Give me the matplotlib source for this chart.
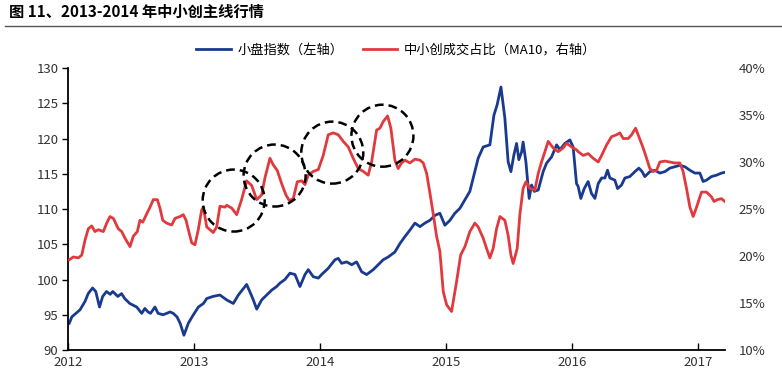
import numpy as np
import matplotlib
matplotlib.use("Agg")
import matplotlib.pyplot as plt
from matplotlib.patches import Ellipse

plt.rcParams['font.family'] = ['Noto Sans CJK SC', 'DejaVu Sans']

# 小盘指数 (left axis), time in decimal years
t_small = [2012.01, 2012.03, 2012.095, 2012.135, 2012.16, 2012.195, 2012.22, 2012.25, 2012.275,
           2012.305, 2012.335, 2012.355, 2012.395, 2012.425, 2012.45, 2012.49, 2012.545, 2012.585,
           2012.61, 2012.635, 2012.655, 2012.69, 2012.715, 2012.755, 2012.81, 2012.835, 2012.865,
           2012.89, 2012.92, 2012.955, 2012.995, 2013.035, 2013.075, 2013.101, 2013.151, 2013.206,
           2013.26, 2013.312, 2013.352, 2013.418, 2013.45, 2013.471, 2013.498, 2013.537, 2013.577,
           2013.617, 2013.656, 2013.683, 2013.722, 2013.762, 2013.802, 2013.841, 2013.881, 2013.907,
           2013.947, 2013.987, 2014.013, 2014.066, 2014.119, 2014.145, 2014.172, 2014.212, 2014.252,
           2014.291, 2014.331, 2014.371, 2014.423, 2014.463, 2014.502, 2014.542, 2014.595, 2014.635,
           2014.675, 2014.714, 2014.754, 2014.794, 2014.833, 2014.873, 2014.913, 2014.952, 2014.992,
           2015.032, 2015.071, 2015.111, 2015.151, 2015.19, 2015.217, 2015.256, 2015.296, 2015.349,
           2015.381, 2015.407, 2015.437, 2015.468, 2015.494, 2015.516, 2015.54, 2015.561, 2015.579,
           2015.601, 2015.613, 2015.635, 2015.661, 2015.68, 2015.701, 2015.733, 2015.772, 2015.799,
           2015.839, 2015.879, 2015.905, 2015.944, 2015.984, 2016.01, 2016.037, 2016.05, 2016.071,
           2016.098, 2016.129, 2016.156, 2016.183, 2016.209, 2016.236, 2016.262, 2016.283, 2016.302,
           2016.341, 2016.363, 2016.394, 2016.421, 2016.46, 2016.5, 2016.532, 2016.558, 2016.579,
           2016.619, 2016.659, 2016.698, 2016.738, 2016.778, 2016.817, 2016.857, 2016.897, 2016.937,
           2016.976, 2017.016, 2017.042, 2017.069, 2017.108, 2017.148, 2017.188, 2017.214]
small_idx = [93.8, 94.7, 95.7, 96.9, 98.0, 98.8, 98.3, 96.1, 97.6,
             98.3, 97.9, 98.3, 97.6, 98.0, 97.3, 96.6, 96.1, 95.2,
             95.9, 95.4, 95.2, 96.1, 95.2, 95.0, 95.4, 95.2, 94.7,
             93.8, 92.1, 93.8, 95.0, 96.1, 96.6, 97.3, 97.6, 97.8,
             97.1, 96.6, 97.8, 99.3, 98.0, 97.1, 95.8, 97.1, 97.8,
             98.5, 99.0, 99.5, 100.0, 100.9, 100.7, 99.0, 100.7, 101.4,
             100.4, 100.2, 100.7, 101.6, 102.8, 103.0, 102.3, 102.5, 102.1,
             102.5, 101.1, 100.7, 101.4, 102.1, 102.8, 103.2, 103.9, 105.1,
             106.1, 107.0, 108.0, 107.5, 108.0, 108.4, 109.1, 109.4, 107.7,
             108.4, 109.4, 110.1, 111.3, 112.5, 114.4, 117.2, 118.8, 119.1,
             123.3, 124.8, 127.3, 122.9, 116.7, 115.3, 117.7, 119.3, 117.0,
             118.1, 119.5, 116.7, 111.5, 113.4, 112.5, 112.7, 115.3, 116.5,
             117.4, 119.1, 118.4, 119.3, 119.8, 118.8, 113.6, 113.2, 111.5,
             112.9, 113.9, 112.2, 111.5, 113.6, 114.4, 114.4, 115.5, 114.4,
             114.1, 112.9, 113.4, 114.4, 114.6, 115.3, 115.8, 115.3, 114.6,
             115.3, 115.5, 115.1, 115.3, 115.8, 116.0, 116.2, 116.0, 115.5,
             115.1, 115.1, 113.9, 114.1, 114.6, 114.8, 115.1, 115.2]

# 中小创成交占比 MA10 (right axis, %)
t_share = [2012.01, 2012.042, 2012.082, 2012.109, 2012.135, 2012.161, 2012.188, 2012.214, 2012.24,
           2012.28, 2012.307, 2012.333, 2012.36, 2012.399, 2012.426, 2012.452, 2012.492, 2012.518,
           2012.55, 2012.571, 2012.593, 2012.625, 2012.651, 2012.677, 2012.709, 2012.73, 2012.752,
           2012.783, 2012.823, 2012.849, 2012.889, 2012.915, 2012.937, 2012.955, 2012.982, 2013.008,
           2013.034, 2013.061, 2013.074, 2013.101, 2013.153, 2013.18, 2013.206, 2013.246, 2013.26,
           2013.299, 2013.339, 2013.378, 2013.418, 2013.458, 2013.498, 2013.537, 2013.563, 2013.603,
           2013.629, 2013.661, 2013.696, 2013.73, 2013.756, 2013.788, 2013.82, 2013.855, 2013.881,
           2013.907, 2013.947, 2013.987, 2014.026, 2014.066, 2014.106, 2014.145, 2014.185, 2014.225,
           2014.264, 2014.304, 2014.344, 2014.383, 2014.41, 2014.45, 2014.476, 2014.502, 2014.537,
           2014.563, 2014.595, 2014.621, 2014.648, 2014.675, 2014.714, 2014.754, 2014.794, 2014.82,
           2014.847, 2014.873, 2014.899, 2014.926, 2014.952, 2014.979, 2015.006, 2015.045, 2015.085,
           2015.117, 2015.151, 2015.19, 2015.23, 2015.256, 2015.296, 2015.323, 2015.349, 2015.375,
           2015.402, 2015.429, 2015.468, 2015.494, 2015.516, 2015.534, 2015.566, 2015.587, 2015.613,
           2015.635, 2015.667, 2015.706, 2015.733, 2015.759, 2015.786, 2015.812, 2015.852, 2015.891,
           2015.931, 2015.958, 2015.998, 2016.037, 2016.05, 2016.09, 2016.129, 2016.169, 2016.209,
           2016.236, 2016.275, 2016.315, 2016.355, 2016.381, 2016.407, 2016.447, 2016.474, 2016.506,
           2016.532, 2016.566, 2016.593, 2016.619, 2016.645, 2016.672, 2016.698, 2016.738, 2016.778,
           2016.817, 2016.857, 2016.883, 2016.91, 2016.937, 2016.963, 2016.99, 2017.029, 2017.069,
           2017.108, 2017.129, 2017.156, 2017.188, 2017.214]
share_pct = [19.6, 19.9, 19.8, 20.1, 21.7, 22.9, 23.2, 22.6, 22.8,
             22.6, 23.5, 24.2, 24.0, 22.9, 22.6, 21.9, 21.0, 22.1,
             22.6, 23.8, 23.6, 24.5, 25.2, 26.0, 26.0, 25.1, 23.8,
             23.5, 23.3, 24.0, 24.2, 24.4, 23.8, 22.8, 21.4, 21.2,
             22.8, 24.9, 25.2, 23.1, 22.5, 23.1, 25.3, 25.2, 25.4,
             25.1, 24.4, 26.0, 28.0, 27.5, 26.0, 26.5, 28.3, 30.4,
             29.7, 29.1, 27.7, 26.5, 25.9, 26.1, 27.9, 28.0, 27.6,
             28.6, 29.0, 29.2, 30.7, 32.9, 33.1, 32.9, 32.2, 31.6,
             30.4, 29.3, 29.0, 28.6, 30.0, 33.4, 33.6, 34.3, 34.9,
             33.6, 30.2, 29.3, 29.9, 30.2, 29.9, 30.3, 30.2, 29.9,
             28.8, 26.7, 24.5, 22.1, 20.5, 16.2, 14.8, 14.1, 17.3,
             20.1, 21.0, 22.6, 23.5, 23.1, 21.9, 20.8, 19.8, 20.8,
             22.9, 24.2, 23.8, 22.2, 20.1, 19.2, 20.8, 24.4, 27.2,
             27.9, 27.2, 27.0, 28.8, 30.0, 31.1, 32.2, 31.5, 31.1,
             31.5, 32.0, 31.6, 31.3, 31.1, 30.7, 30.9, 30.4, 30.0,
             30.7, 31.8, 32.7, 32.9, 33.1, 32.5, 32.5, 32.9, 33.6,
             32.7, 31.5, 30.4, 29.3, 29.0, 29.1, 30.0, 30.1, 30.0,
             29.9, 29.9, 29.0, 27.2, 25.2, 24.2, 25.2, 26.8, 26.8,
             26.3, 25.8, 26.0, 26.1, 25.8]

years = [2012, 2013, 2014, 2015, 2016, 2017]
left_ticks = [90, 95, 100, 105, 110, 115, 120, 125, 130]
right_ticks = [10, 15, 20, 25, 30, 35, 40]

# dashed circles: centre (year, left-axis value)
circle_centres = [(2013.315, 111.2), (2013.64, 114.75), (2014.098, 118.0), (2014.496, 120.4)]

blue = '#1a3a8f'
red = '#e03a3e'

fig = plt.figure(figsize=(7.82, 3.79), dpi=100)
ax1 = fig.add_axes([0.087, 0.0765, 0.84, 0.744])
ax2 = ax1.twinx()

l1, = ax1.plot(t_small, small_idx, color=blue, lw=2, label='小盘指数（左轴）')
l2, = ax2.plot(t_share, share_pct, color=red, lw=2, label='中小创成交占比（MA10，右轴）')

ax1.set_xlim(2012, 2017.215)
ax1.set_ylim(90, 130)
ax2.set_ylim(10, 40)

ax1.set_xticks(years)
ax1.set_xticklabels([str(y) for y in years])
ax1.set_yticks(left_ticks)
ax2.set_yticks(right_ticks)
ax2.set_yticklabels([f'{v}%' for v in right_ticks])

for sp in ['top', 'right']:
    ax1.spines[sp].set_visible(False)
    ax2.spines[sp].set_visible(False)
ax2.spines['left'].set_visible(False)
ax2.spines['bottom'].set_visible(False)
ax1.spines['left'].set_linewidth(1.3)
ax1.spines['bottom'].set_linewidth(1.3)

ax1.tick_params(axis='y', direction='out', length=4, width=1, labelsize=9.5, colors='#333333', pad=3)
ax1.tick_params(axis='x', direction='in', length=5, width=1, labelsize=9.5, colors='#333333', pad=4)
ax2.tick_params(axis='y', length=0, labelsize=9.5, colors='#333333', pad=10)
for ax in (ax1, ax2):
    ax.tick_params(axis='both', colors='black', labelcolor='#333333')

# circles: 62 px across
w = 62 / (0.84 * 782) * (2017.215 - 2012)
h = 62 / (0.744 * 379) * 40
for cx, cy in circle_centres:
    ax2.add_patch(Ellipse((cx, 10 + (cy - 90) * 30 / 40), w, h * 30 / 40, fill=False,
                          ls=(0, (3.5, 2)), lw=1.8, ec='black', zorder=5))

fig.legend(handles=[l1, l2], loc='center', bbox_to_anchor=(0.507, 0.868), ncol=2,
           frameon=False, fontsize=9.5, handlelength=2.6, columnspacing=1.5, handletextpad=0.5)

fig.text(0.012, 0.968, '图 11、2013-2014 年中小创主线行情', fontsize=11, fontweight='bold',
         va='center', ha='left')
fig.add_artist(plt.Line2D([0.006, 1.0], [0.931, 0.931], color='#555555', lw=1))

fig.savefig('out.png', dpi=100)
